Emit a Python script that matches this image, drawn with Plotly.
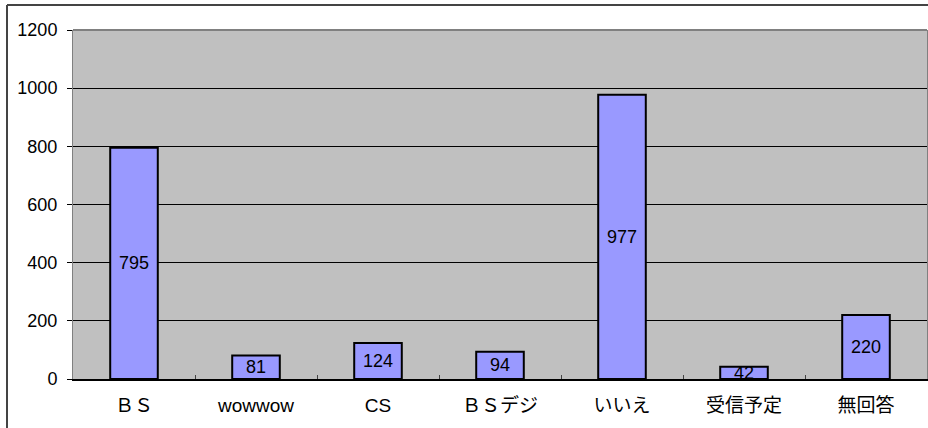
import plotly.graph_objects as go

# Survey answers and counts
categories = ["ＢＳ", "wowwow", "CS", "ＢＳデジ", "いいえ", "受信予定", "無回答"]
counts = [795, 81, 124, 94, 977, 42, 220]
y_ticks = [0, 200, 400, 600, 800, 1000, 1200]

W, H = 928, 428
M_L, M_R, M_T, M_B = 73, 1, 30, 49
plot_w = W - M_L - M_R
plot_h = H - M_T - M_B

num_font = dict(family="Liberation Sans, Arial, sans-serif", size=18, color="#000000")
cat_font = dict(family="Liberation Sans, Noto Sans CJK JP, sans-serif", size=19, color="#000000")

fig = go.Figure()
fig.add_trace(go.Bar(
    x=categories,
    y=counts,
    marker=dict(color="#9999FF", line=dict(color="#000000", width=2)),
    width=0.39,
    hoverinfo="x+y",
))

# value labels centred in each bar
for c, v in zip(categories, counts):
    fig.add_annotation(x=c, y=v / 2, text=str(v), showarrow=False,
                       font=num_font, xanchor="center", yanchor="middle")

# chart frame (left and top edges)
fx = (7 - M_L) / plot_w
fy = (H - M_B - 5) / plot_h
fig.add_shape(type="line", xref="paper", yref="paper", x0=fx, x1=fx, y0=fy, y1=-0.3,
              line=dict(color="#444444", width=2))
fig.add_shape(type="line", xref="paper", yref="paper", x0=fx, x1=1.2, y0=fy, y1=fy,
              line=dict(color="#444444", width=2))
# top edge of plot area
fig.add_shape(type="line", xref="paper", yref="paper", x0=0, x1=1, y0=1, y1=1,
              line=dict(color="#808080", width=2))

fig.update_layout(
    width=W, height=H,
    margin=dict(l=M_L, r=M_R, t=M_T, b=M_B, pad=0),
    paper_bgcolor="#FFFFFF",
    plot_bgcolor="#C0C0C0",
    showlegend=False,
    xaxis=dict(
        range=[-0.5, 6.5],
        showline=True, linecolor="#000000", linewidth=2,
        ticks="inside", tickson="boundaries", ticklen=4, tickcolor="#444444", tickwidth=1,
        showgrid=False,
        tickfont=cat_font,
        ticklabelstandoff=8,
        fixedrange=True,
    ),
    yaxis=dict(
        range=[0, 1200],
        tickvals=y_ticks,
        ticktext=[str(t) for t in y_ticks],
        showline=True, mirror=True, linecolor="#808080", linewidth=1,
        ticks="outside", ticklen=5, tickcolor="#000000", tickwidth=1,
        showgrid=True, gridcolor="#000000", gridwidth=1,
        zeroline=False,
        tickfont=num_font,
        ticklabelstandoff=6,
        fixedrange=True,
    ),
)

fig.write_html("out.html")
